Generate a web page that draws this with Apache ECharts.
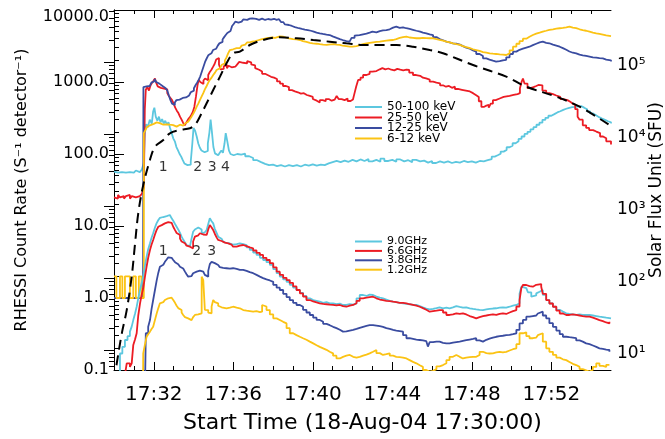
<!DOCTYPE html>
<html><head><meta charset="utf-8">
<script src="https://cdn.jsdelivr.net/npm/echarts@6/dist/echarts.min.js"></script>
<style>html,body{margin:0;padding:0;background:#fff}#c{width:665px;height:439px}</style>
</head><body><div id="c"></div>
<script>
// ---- time in minutes after 17:30:00 ----
const xMajorTicks = [2, 6, 10, 14, 18, 22];
const xMinorTicks = [1, 3, 4, 5, 7, 8, 9, 11, 12, 13, 15, 16, 17, 19, 20, 21, 23, 24];
const leftTickLabels = [0.1, 1, 10, 100, 1000, 10000];
const rightTickLabels = [10, 100, 1000, 10000, 100000];

const hxrNames = ['50-100 keV', '25-50 keV', '12-25 keV', '6-12 keV'];
const radioNames = ['9.0GHz', '6.6GHz', '3.8GHz', '1.2GHz'];

// RHESSI count rates (left axis)
const hxr50_100 = [[0,57],[0.1,55],[0.2,58],[0.3,56],[0.4,59],[0.5,55],[0.6,57],[0.7,56],[0.8,58],[0.9,55],[1.0,57],[1.1,59],[1.2,56],[1.3,58],[1.4,61],[1.5,75],[1.55,190],[1.62,260],[1.7,235],[1.8,300],[1.9,265],[1.97,390],[2.03,440],[2.1,330],[2.18,290],[2.26,330],[2.34,275],[2.42,305],[2.5,265],[2.58,290],[2.66,255],[2.74,275],[2.82,230],[2.9,195],[2.98,165],[3.06,150],[3.14,125],[3.22,112],[3.3,100],[3.38,92],[3.46,82],[3.54,74],[3.62,70],[3.7,68],[3.78,71],[3.86,78],[3.94,140],[4.0,230],[4.08,210],[4.16,175],[4.24,140],[4.32,122],[4.4,112],[4.48,106],[4.56,102],[4.64,110],[4.72,140],[4.8,200],[4.86,300],[4.92,210],[5.0,125],[5.08,102],[5.16,96],[5.24,98],[5.32,104],[5.4,112],[5.48,104],[5.56,140],[5.62,195],[5.7,150],[5.78,112],[5.86,100],[5.94,96],[6.02,100],[6.2,98],[6.4,101],[6.6,93],[6.8,88],[7.0,82],[7.2,77],[7.4,73],[7.6,70],[7.8,71],[8.0,68],[8.2,70],[8.4,67],[8.6,70],[8.8,68],[9.0,70],[9.2,67],[9.4,71],[9.6,69],[9.8,72],[10.0,69],[10.2,71],[10.4,70],[10.6,74],[10.8,77],[11.0,80],[11.2,77],[11.4,81],[11.6,78],[11.8,83],[12.0,79],[12.2,84],[12.4,80],[12.6,85],[12.8,79],[13.0,83],[13.2,78],[13.4,86],[13.6,80],[13.8,83],[14.0,78],[14.2,84],[14.4,79],[14.6,82],[14.8,77],[15.0,83],[15.2,79],[15.4,81],[15.6,76],[15.8,80],[16.0,75],[16.2,79],[16.4,76],[16.6,79],[16.8,75],[17.0,78],[17.2,76],[17.4,80],[17.6,77],[17.8,79],[18.0,76],[18.2,80],[18.4,79],[18.6,82],[18.8,85],[19.0,92],[19.15,96],[19.3,101],[19.45,108],[19.6,114],[19.75,124],[19.9,130],[20.05,141],[20.2,150],[20.35,162],[20.5,175],[20.65,190],[20.8,203],[20.95,220],[21.1,236],[21.25,255],[21.4,272],[21.55,298],[21.7,318],[21.85,340],[22.0,358],[22.15,378],[22.3,392],[22.45,410],[22.6,425],[22.75,438],[22.9,448],[23.05,452],[23.2,458],[23.35,462],[23.5,440],[23.65,418],[23.8,392],[23.95,366],[24.1,345],[24.25,325],[24.4,310],[24.55,298],[24.7,285],[24.85,275],[25.0,265]];
const hxr25_50 = [[0,25],[0.1,24],[0.2,27],[0.3,25],[0.4,26],[0.5,24],[0.6,26],[0.7,27],[0.8,24],[0.9,26],[1.0,25],[1.1,24],[1.2,26],[1.3,25],[1.4,28],[1.5,34],[1.55,420],[1.6,780],[1.68,850],[1.76,760],[1.84,900],[1.92,980],[2.0,1050],[2.06,1120],[2.12,980],[2.2,870],[2.28,830],[2.36,880],[2.44,810],[2.52,830],[2.6,790],[2.68,700],[2.76,640],[2.84,600],[2.92,560],[3.0,500],[3.08,440],[3.16,400],[3.24,370],[3.32,330],[3.4,300],[3.48,270],[3.56,250],[3.64,275],[3.72,300],[3.8,320],[3.88,345],[3.96,380],[4.04,450],[4.12,620],[4.2,900],[4.26,1070],[4.34,1000],[4.42,940],[4.5,1050],[4.58,1120],[4.66,1060],[4.74,1250],[4.82,1380],[4.9,1480],[4.98,1620],[5.06,1780],[5.14,2050],[5.2,2150],[5.28,1750],[5.36,1500],[5.44,1520],[5.52,1650],[5.6,1730],[5.68,1550],[5.76,1680],[5.84,1600],[5.92,1560],[6.0,1630],[6.1,1700],[6.2,1760],[6.3,1900],[6.4,1850],[6.5,1780],[6.6,1820],[6.7,1950],[6.8,1880],[6.9,1760],[7.0,1700],[7.1,1560],[7.2,1480],[7.3,1400],[7.45,1300],[7.6,1240],[7.75,1180],[7.9,1150],[8.05,1100],[8.2,1020],[8.35,950],[8.5,880],[8.65,850],[8.8,770],[8.95,740],[9.1,720],[9.25,690],[9.4,700],[9.55,660],[9.7,640],[9.85,620],[10.0,580],[10.1,550],[10.2,520],[10.35,560],[10.5,540],[10.65,580],[10.8,550],[10.95,570],[11.1,600],[11.2,640],[11.3,580],[11.45,560],[11.6,590],[11.75,545],[11.9,570],[12.02,555],[12.1,700],[12.18,860],[12.28,1070],[12.4,1150],[12.53,1250],[12.7,1300],[12.86,1390],[13.0,1420],[13.2,1500],[13.37,1560],[13.5,1500],[13.65,1540],[13.8,1480],[13.95,1450],[14.1,1520],[14.25,1480],[14.4,1450],[14.55,1490],[14.71,1470],[14.85,1350],[15.04,1250],[15.2,1220],[15.4,1150],[15.54,1120],[15.7,1080],[15.88,1010],[16.05,980],[16.22,960],[16.4,900],[16.55,860],[16.7,880],[16.85,830],[17.0,860],[17.15,800],[17.3,780],[17.5,760],[17.7,740],[17.9,700],[18.06,660],[18.2,620],[18.35,540],[18.48,450],[18.6,470],[18.73,480],[18.85,440],[18.95,500],[19.06,560],[19.2,590],[19.4,620],[19.6,640],[19.9,660],[20.1,680],[20.3,700],[20.42,820],[20.5,1000],[20.57,1120],[20.65,950],[20.8,820],[20.95,850],[21.1,880],[21.24,910],[21.35,960],[21.45,900],[21.55,760],[21.74,700],[21.9,680],[22.08,650],[22.25,620],[22.45,580],[22.6,560],[22.81,530],[22.95,500],[23.08,480],[23.2,420],[23.32,330],[23.42,300],[23.58,250],[23.75,230],[23.9,215],[24.1,205],[24.26,195],[24.45,175],[24.6,165],[24.76,150],[25.0,135]];
const hxr12_25 = [[0,1],[1.46,1],[1.48,850],[1.56,870],[1.64,900],[1.72,880],[1.8,920],[1.88,980],[1.96,1030],[2.04,1100],[2.12,1000],[2.2,950],[2.28,900],[2.36,880],[2.44,830],[2.52,820],[2.6,790],[2.68,760],[2.76,650],[2.84,560],[2.92,500],[2.98,480],[3.06,520],[3.14,560],[3.22,570],[3.3,590],[3.38,600],[3.46,590],[3.54,610],[3.62,620],[3.7,650],[3.78,690],[3.86,720],[3.94,760],[4.02,820],[4.1,900],[4.18,980],[4.26,1070],[4.34,1200],[4.42,1400],[4.5,1630],[4.58,1900],[4.66,2120],[4.74,2350],[4.82,2500],[4.9,2650],[4.98,2780],[5.06,2900],[5.14,3050],[5.22,3200],[5.3,3440],[5.38,3600],[5.46,3900],[5.54,4200],[5.62,4500],[5.7,4800],[5.78,5100],[5.86,5400],[5.94,6000],[6.02,6400],[6.1,6880],[6.18,6700],[6.26,6540],[6.34,6900],[6.42,7100],[6.5,7400],[6.6,7300],[6.7,7600],[6.83,7670],[6.95,7400],[7.05,7550],[7.15,7300],[7.3,7600],[7.45,7270],[7.6,7500],[7.75,7350],[7.9,7550],[8.05,7300],[8.18,7440],[8.3,7000],[8.4,6800],[8.51,6540],[8.6,6300],[8.68,6190],[8.8,6000],[8.95,5800],[9.1,5700],[9.18,5580],[9.3,5450],[9.45,5350],[9.6,5270],[9.75,5150],[9.9,5000],[10.05,4850],[10.19,4740],[10.35,4650],[10.5,4550],[10.69,4490],[10.85,4300],[11.0,4100],[11.2,3950],[11.36,3830],[11.5,3700],[11.69,3630],[11.85,3800],[11.95,4100],[12.1,4400],[12.2,4490],[12.35,4600],[12.53,4700],[12.7,4850],[12.86,5000],[13.0,4900],[13.2,5100],[13.37,5200],[13.53,5270],[13.7,5400],[13.87,5700],[14.04,5870],[14.2,5650],[14.37,5750],[14.54,5580],[14.7,5450],[14.87,5300],[15.04,5150],[15.21,5000],[15.4,4850],[15.54,4750],[15.71,4600],[15.88,4490],[16.05,4200],[16.22,3950],[16.38,3800],[16.55,3630],[16.72,3550],[16.88,3440],[17.05,3400],[17.22,3300],[17.4,3150],[17.55,3000],[17.72,2900],[17.9,2750],[18.06,2640],[18.22,2450],[18.39,2300],[18.56,2130],[18.73,2050],[18.89,1980],[19.06,1920],[19.22,1950],[19.4,2000],[19.56,2030],[19.73,2200],[19.9,2450],[20.07,2640],[20.24,2800],[20.4,2900],[20.57,3000],[20.74,3090],[20.9,3250],[21.07,3400],[21.24,3550],[21.41,3630],[21.57,3500],[21.74,3450],[21.9,3300],[22.08,3200],[22.25,3090],[22.42,2950],[22.58,2800],[22.75,2650],[22.91,2550],[23.08,2500],[23.25,2400],[23.42,2350],[23.58,2300],[23.75,2250],[23.92,2200],[24.09,2180],[24.26,2150],[24.42,2130],[24.59,2050],[24.76,2000],[25.0,1920]];
const hxr6_12 = [[0,2],[0.12,1],[0.3,2],[0.42,1],[0.55,2],[0.8,1],[0.97,2],[1.1,1],[1.25,2],[1.38,1],[1.5,195],[1.58,215],[1.65,235],[1.73,250],[1.81,265],[1.9,262],[2.0,270],[2.08,275],[2.15,280],[2.23,268],[2.3,260],[2.4,255],[2.48,250],[2.56,258],[2.65,262],[2.73,255],[2.81,265],[2.9,252],[2.98,248],[3.07,240],[3.15,248],[3.25,255],[3.32,250],[3.4,248],[3.48,258],[3.57,265],[3.65,280],[3.73,290],[3.82,305],[3.9,330],[3.98,360],[4.07,400],[4.16,454],[4.24,500],[4.32,560],[4.41,630],[4.49,700],[4.57,790],[4.66,880],[4.74,980],[4.82,1070],[4.91,1150],[4.99,1250],[5.08,1350],[5.16,1470],[5.24,1550],[5.33,1650],[5.41,1720],[5.49,1820],[5.58,2000],[5.66,2200],[5.74,2500],[5.83,2780],[5.91,2850],[5.99,2900],[6.08,2950],[6.17,2850],[6.25,2950],[6.33,3090],[6.42,3200],[6.5,3300],[6.6,3450],[6.7,3550],[6.83,3630],[6.95,3700],[7.1,3800],[7.25,3900],[7.4,4000],[7.5,4050],[7.65,4100],[7.8,4150],[7.95,4100],[8.1,4200],[8.2,4300],[8.34,4260],[8.5,4150],[8.65,4050],[8.8,3950],[9.0,3900],[9.18,3830],[9.35,3700],[9.5,3600],[9.68,3500],[9.85,3440],[10.0,3400],[10.2,3350],[10.35,3300],[10.52,3270],[10.7,3320],[10.9,3350],[11.05,3300],[11.19,3270],[11.35,3200],[11.5,3150],[11.69,3100],[11.86,3090],[12.0,3150],[12.2,3250],[12.36,3350],[12.53,3440],[12.7,3500],[12.86,3550],[13.03,3600],[13.2,3630],[13.37,3700],[13.53,3750],[13.7,3800],[13.87,3830],[14.04,3950],[14.2,4100],[14.37,4200],[14.54,4260],[14.71,4150],[14.87,4100],[15.04,4050],[15.21,4050],[15.38,4100],[15.54,4080],[15.71,4050],[15.88,4050],[16.05,3950],[16.22,3850],[16.38,3750],[16.55,3630],[16.72,3550],[16.88,3440],[17.05,3350],[17.22,3270],[17.4,3150],[17.55,3050],[17.72,2950],[17.9,2850],[18.06,2780],[18.22,2700],[18.39,2600],[18.56,2550],[18.73,2500],[18.9,2470],[19.06,2450],[19.22,2420],[19.4,2400],[19.56,2370],[19.73,2500],[19.9,2750],[20.07,3090],[20.24,3400],[20.4,3700],[20.57,4000],[20.74,4260],[20.9,4500],[21.07,4700],[21.24,4850],[21.41,5000],[21.57,5150],[21.74,5300],[21.9,5400],[22.08,5500],[22.25,5580],[22.42,5650],[22.58,5750],[22.75,5870],[22.91,5700],[23.08,5600],[23.25,5400],[23.42,5270],[23.58,5150],[23.75,5000],[23.92,4850],[24.09,4740],[24.26,4650],[24.42,4550],[24.59,4450],[24.76,4350],[25.0,4260]];

// Radio flux in SFU (right axis)
const radio9_0 = [[0,4],[0.3,8.9],[0.42,11],[0.55,13.7],[0.68,15.5],[0.8,17.9],[0.89,21],[0.97,25.9],[1.06,32],[1.14,39.7],[1.22,52],[1.31,67.8],[1.39,85],[1.47,104],[1.56,150],[1.64,197],[1.72,250],[1.81,302],[1.89,360],[1.97,416],[2.06,500],[2.14,570],[2.23,636],[2.31,680],[2.4,700],[2.48,707],[2.56,720],[2.65,735],[2.73,746],[2.81,720],[2.9,671],[2.98,620],[3.07,560],[3.15,513],[3.23,470],[3.32,420],[3.4,373],[3.48,340],[3.57,310],[3.65,286],[3.73,275],[3.82,271],[3.9,350],[3.98,437],[4.07,470],[4.16,500],[4.24,513],[4.32,470],[4.41,416],[4.49,430],[4.57,445],[4.66,461],[4.74,560],[4.82,671],[4.91,610],[4.99,571],[5.07,480],[5.16,420],[5.24,373],[5.32,350],[5.41,330],[5.49,318],[5.58,305],[5.66,300],[5.83,290],[5.99,286],[6.08,295],[6.17,302],[6.33,295],[6.5,286],[6.67,265],[6.83,244],[7.0,225],[7.17,208],[7.34,190],[7.5,177],[7.67,165],[7.84,151],[8.01,132],[8.18,116],[8.34,104],[8.51,95],[8.68,88],[8.84,80],[9.01,73],[9.18,67.8],[9.35,62],[9.51,56],[9.68,52],[9.85,49],[10.02,48],[10.19,46.7],[10.35,45],[10.52,46],[10.69,44.3],[10.85,44.3],[11.02,43],[11.19,44],[11.36,42],[11.52,42],[11.69,43],[11.86,42.5],[12.03,44.3],[12.2,52],[12.36,57.8],[12.53,56],[12.7,58.5],[12.86,57.8],[13.03,55],[13.2,53],[13.37,52],[13.53,50],[13.7,48],[13.87,46.7],[14.04,46],[14.2,45],[14.37,44.3],[14.54,43.5],[14.71,43],[14.87,42],[15.04,42],[15.21,40.5],[15.38,39],[15.54,37.5],[15.71,36.6],[15.88,37],[16.05,38],[16.22,39],[16.38,37.8],[16.55,38.5],[16.72,37.8],[16.88,39],[17.05,40.6],[17.22,39.5],[17.39,38.5],[17.55,39],[17.72,37.8],[17.89,37],[18.06,36.5],[18.22,36],[18.39,35.7],[18.56,36.5],[18.73,37],[18.89,37.5],[19.06,37.8],[19.23,38.5],[19.4,39],[19.56,38.5],[19.73,39.7],[19.9,41],[20.07,42],[20.24,44.3],[20.4,60],[20.49,75.3],[20.57,72],[20.74,71.6],[20.82,63],[20.99,54.7],[21.07,57],[21.24,60.9],[21.32,64],[21.41,67.8],[21.57,58],[21.74,49.2],[21.9,44],[22.08,39.7],[22.25,36],[22.42,34],[22.58,32.2],[22.75,31.5],[22.91,31],[23.08,30.5],[23.25,31],[23.42,30.5],[23.58,30.5],[23.75,30.5],[23.92,30],[24.09,29.5],[24.26,28.9],[24.42,28.5],[24.59,28],[24.76,27.4],[25,27.4]];
const radio6_6 = [[0,4],[0.55,4.5],[0.64,6.5],[0.72,6.5],[0.8,5.8],[0.89,6.5],[0.97,11.7],[1.06,14],[1.14,17],[1.22,30],[1.31,44.3],[1.39,58],[1.47,71.6],[1.56,105],[1.64,143],[1.72,190],[1.81,244],[1.89,290],[1.97,336],[2.06,400],[2.14,460],[2.23,513],[2.31,540],[2.4,560],[2.48,571],[2.56,585],[2.65,595],[2.73,602],[2.81,580],[2.9,550],[2.98,513],[3.07,460],[3.15,420],[3.23,394],[3.32,350],[3.4,320],[3.48,302],[3.57,290],[3.65,280],[3.73,271],[3.82,262],[3.9,257],[3.98,320],[4.07,373],[4.16,390],[4.24,405],[4.32,416],[4.41,400],[4.49,390],[4.57,394],[4.66,410],[4.74,470],[4.82,542],[4.91,500],[4.99,461],[5.07,410],[5.16,365],[5.24,336],[5.32,325],[5.41,315],[5.49,308],[5.58,302],[5.75,290],[5.91,280],[5.99,271],[6.17,280],[6.33,286],[6.5,275],[6.67,265],[6.83,257],[7.0,240],[7.17,222],[7.34,208],[7.5,190],[7.67,177],[7.84,160],[8.01,140],[8.18,122],[8.34,110],[8.51,100],[8.68,93],[8.84,85],[9.01,76],[9.18,67.8],[9.35,61],[9.51,55],[9.68,49.2],[9.85,47],[10.02,45.5],[10.19,44.3],[10.35,43.5],[10.52,43],[10.69,42.5],[10.85,42],[11.02,41.5],[11.19,42],[11.36,40.5],[11.52,39.7],[11.69,41],[11.86,42],[12.03,44.3],[12.2,48],[12.36,52],[12.53,53],[12.7,54],[12.86,54.7],[13.03,52],[13.2,50],[13.37,49.2],[13.53,48],[13.7,47.5],[13.87,46.7],[14.04,46],[14.2,45],[14.37,44.8],[14.54,44.3],[14.71,43],[14.87,42],[15.04,41],[15.21,39.7],[15.38,38],[15.54,36],[15.71,33.9],[15.88,34.5],[16.05,35],[16.22,35.7],[16.38,35.7],[16.55,33],[16.72,30.5],[16.88,31],[17.05,32],[17.22,31.5],[17.39,32.2],[17.55,31],[17.72,29.5],[17.89,28.5],[18.06,27.4],[18.22,28.5],[18.39,29.5],[18.56,30],[18.73,30.5],[18.89,31],[19.06,30.5],[19.23,31.5],[19.4,32.2],[19.56,31.5],[19.73,33],[19.9,34.5],[20.07,35.7],[20.24,40],[20.4,49.2],[20.49,72],[20.57,79.6],[20.74,77],[20.9,75.3],[21.07,80],[21.24,84],[21.32,82],[21.49,75.3],[21.57,60],[21.74,49.2],[21.9,44],[22.08,39.7],[22.25,35],[22.42,32],[22.58,30.5],[22.75,30.5],[22.91,31],[23.08,30.5],[23.25,30],[23.42,29.5],[23.58,29],[23.75,28.9],[23.92,28],[24.09,27],[24.26,25.9],[24.42,25],[24.59,24],[24.76,23.3],[24.92,24.6]];
const radio3_8 = [[0,3],[1.56,3],[1.6,17],[1.72,21],[1.81,25.9],[1.89,37],[1.97,49.2],[2.06,67.8],[2.15,93],[2.23,118],[2.31,143],[2.4,152],[2.48,160],[2.56,167],[2.65,180],[2.73,193],[2.81,190],[2.9,185],[2.98,177],[3.07,165],[3.15,155],[3.23,148],[3.32,143],[3.4,135],[3.48,128],[3.57,122],[3.65,112],[3.73,104],[3.82,106],[3.9,110],[3.98,116],[4.07,122],[4.16,129],[4.24,126],[4.32,124],[4.41,122],[4.49,118],[4.57,110],[4.66,104],[4.74,125],[4.82,155],[4.91,167],[4.99,160],[5.07,155],[5.16,151],[5.24,146],[5.32,141],[5.41,138],[5.49,136],[5.66,134],[5.83,136],[5.99,133],[6.17,129],[6.33,129],[6.5,125],[6.67,120],[6.83,116],[7.0,110],[7.17,104],[7.34,99],[7.5,95],[7.67,92],[7.84,88],[8.01,80],[8.18,73],[8.34,67.8],[8.51,60],[8.68,54],[8.84,49.2],[9.01,45],[9.18,42],[9.35,39.7],[9.51,36],[9.68,33],[9.85,30.5],[10.02,28],[10.19,26],[10.35,24.6],[10.52,23],[10.69,22],[10.85,20.9],[11.02,20],[11.19,19],[11.36,17.9],[11.52,18],[11.69,18.5],[11.86,18.9],[12.03,19.5],[12.2,20.2],[12.36,20.9],[12.53,21.5],[12.7,22],[12.86,22.1],[13.03,21.7],[13.2,21.3],[13.37,20.9],[13.53,20],[13.7,19.5],[13.87,18.9],[14.04,18.5],[14.2,18.2],[14.37,17.9],[14.54,16],[14.71,14.5],[14.87,14.2],[15.04,13.9],[15.21,13.7],[15.38,13.5],[15.54,13.2],[15.71,13],[15.79,11.1],[15.88,12.8],[16.05,13],[16.22,13],[16.38,12.5],[16.55,12.3],[16.72,12.3],[16.88,12.6],[17.05,12.8],[17.22,13],[17.39,13.3],[17.55,13.6],[17.72,13.9],[17.89,14.2],[18.06,14.5],[18.22,13.5],[18.39,13],[18.56,13.8],[18.73,14.3],[18.89,14.8],[19.06,15.2],[19.23,15.5],[19.4,15.7],[19.56,16],[19.73,16.1],[19.9,16.5],[20.07,17],[20.24,19],[20.4,23.3],[20.57,26],[20.74,28.9],[20.9,29.5],[21.07,30],[21.24,30.5],[21.32,32],[21.41,33.9],[21.57,30],[21.74,27.4],[21.9,23.5],[22.08,20.9],[22.25,18.5],[22.42,16.5],[22.58,15.2],[22.75,15],[22.91,14.8],[23.08,14.5],[23.25,13.5],[23.42,13],[23.58,12.3],[23.75,12],[23.92,11.5],[24.09,11],[24.26,10.5],[24.42,10.3],[24.59,10.1],[24.76,9.95],[24.92,9.4]];
const radio1_2 = [[0,3],[1.46,3],[1.47,8.95],[1.56,12],[1.64,15.2],[1.72,16.5],[1.81,17.9],[1.89,19.5],[1.97,20.9],[2.06,26],[2.15,32.2],[2.23,38],[2.31,44.3],[2.4,46],[2.48,48],[2.56,49.2],[2.65,52],[2.73,54.7],[2.81,53],[2.9,51],[2.98,49.2],[3.07,45],[3.15,41],[3.23,38],[3.32,35.7],[3.4,33],[3.48,30.5],[3.57,28.5],[3.65,27.4],[3.73,26.5],[3.82,25.9],[3.9,27],[3.98,28.5],[4.07,30.5],[4.16,31],[4.24,31.5],[4.32,32.2],[4.41,104],[4.49,93],[4.57,36],[4.62,35.7],[4.74,33],[4.82,32.2],[4.91,40],[4.99,49.2],[5.07,46],[5.16,44.3],[5.24,41],[5.32,39],[5.41,38.5],[5.49,37.8],[5.66,38.5],[5.83,39.7],[5.99,38.5],[6.17,37.8],[6.33,35.7],[6.5,35],[6.67,34.5],[6.83,33.9],[7.0,34.5],[7.17,33.5],[7.34,33.9],[7.45,42],[7.55,40],[7.67,35.7],[7.84,31],[8.01,27.4],[8.18,26],[8.34,24.5],[8.51,23.3],[8.68,20],[8.84,17],[9.01,16],[9.18,15.2],[9.35,14.5],[9.51,13.8],[9.68,13],[9.85,12.3],[10.02,11.6],[10.19,11],[10.35,10.5],[10.52,10],[10.69,9.4],[10.85,8.95],[11.02,8.3],[11.19,7.6],[11.36,8.0],[11.52,8.3],[11.69,8.5],[11.86,8.0],[12.03,7.8],[12.2,8.0],[12.36,8.3],[12.53,8.6],[12.7,8.95],[12.86,9.4],[13.03,9.95],[13.2,9.0],[13.37,8.5],[13.53,8.7],[13.7,8.95],[13.87,8.3],[14.04,8.0],[14.2,7.9],[14.37,7.8],[14.54,7.6],[14.71,7.2],[14.87,6.8],[15.04,6.5],[15.21,6.1],[15.38,5.8],[15.54,5.25],[15.71,5.0],[15.88,5.1],[16.05,5.4],[16.22,5.9],[16.38,6.15],[16.55,6.5],[16.72,7.2],[16.88,8.0],[17.05,8.5],[17.22,8.0],[17.39,7.6],[17.55,7.8],[17.72,7.9],[17.89,8.0],[18.06,8.0],[18.22,8.5],[18.39,9.4],[18.56,9.0],[18.73,8.9],[18.89,8.95],[19.06,9.2],[19.23,9.4],[19.4,9.2],[19.56,9.4],[19.73,9.8],[19.9,10.2],[20.07,10.5],[20.24,12],[20.4,17],[20.57,17.9],[20.65,17.5],[20.74,15.5],[20.9,14.5],[21.07,14.8],[21.24,15.2],[21.32,16],[21.41,17],[21.57,13],[21.74,10.5],[21.9,9.4],[22.08,8.5],[22.25,7.8],[22.42,7.4],[22.58,7.2],[22.75,6.8],[22.91,6.4],[23.08,6.15],[23.25,5.8],[23.42,5.4],[23.58,5.2],[23.75,5.0],[23.92,5.3],[24.09,5.8],[24.26,6.5],[24.42,6.0],[24.59,5.8],[24.76,6.2],[24.92,6.15]];

// dashed black curve (left axis scale)
const dashedCurve = [[0,0.07],[0.1,0.106],[0.39,0.32],[0.64,0.68],[0.89,1.98],[1.06,5.75],[1.22,15],[1.47,37],[1.81,83],[2.06,126],[2.48,156],[2.81,194],[3.32,215],[3.82,228],[4.07,253],[4.32,330],[4.66,506],[4.99,774],[5.33,1186],[5.66,1820],[5.99,2505],[6.33,2640],[6.83,3266],[7.5,3830],[8.34,4180],[9.18,4045],[10.02,3830],[10.85,3630],[11.69,3440],[12.53,3266],[13.37,3266],[14.21,3266],[15.04,3090],[15.88,2780],[16.55,2505],[18.06,1720],[19.73,1186],[20.74,860],[22.25,625],[23.42,454],[24.92,253]];

// peak labels: [time, left-axis value, text]
const hxrPeakLabels = [[2.48,66,'1'],[4.21,66,'2'],[4.94,66,'3'],[5.61,66,'4']];
const radioPeakLabels = [[2.48,4.4,'1'],[4.16,4.4,'2'],[4.91,4.4,'3']];

const colCyan = '#5CC7DF', colRed = '#EC1C24', colBlue = '#3A4CA0', colYellow = '#FBC314';
const FONT = 'DejaVu Sans';
const SUP = { 1: '\u00B9', 2: '\u00B2', 3: '\u00B3', 4: '\u2074', 5: '\u2075' };

function decadeMinors(lo, hi) {
  const out = [];
  for (let e = -2; e <= 6; e++) {
    for (let m = 2; m <= 9; m++) {
      const v = m * Math.pow(10, e);
      if (v > lo && v < hi) out.push(+v.toPrecision(6));
    }
  }
  return out;
}
const RMIN = 5.25, RMAX = 525000;
const leftMinor = decadeMinors(0.1, 10000);
const rightMinor = decadeMinors(RMIN, RMAX);

function lineSeries(name, data, color, yIdx) {
  return { name, type: 'line', data, xAxisIndex: 0, yAxisIndex: yIdx, step: 'end',
    symbol: 'none', showSymbol: false, color, itemStyle: { color },
    lineStyle: { color, width: 1.8 }, silent: true, animation: false, clip: true };
}

const baseX = { type: 'value', min: 0, max: 25, splitLine: { show: false }, gridIndex: 0 };
const baseTick = { lineStyle: { color: '#000', width: 1 } };

const chart = echarts.init(document.getElementById('c'), null, { renderer: 'canvas' });
chart.setOption({
  animation: false,
  backgroundColor: '#fff',
  textStyle: { fontFamily: FONT },
  grid: { left: 114, right: 54, top: 10, bottom: 69, containLabel: false, outerBoundsMode: 'none' },
  legend: [
    { data: hxrNames, orient: 'vertical', left: 355, top: 101, itemWidth: 27, itemHeight: 2, itemGap: -1.5,
      icon: 'rect', padding: 0, selectedMode: false,
      textStyle: { fontSize: 12, color: '#000', fontFamily: FONT } },
    { data: radioNames, orient: 'vertical', left: 355, top: 236, itemWidth: 27, itemHeight: 2, itemGap: -1.6,
      icon: 'rect', padding: 0, selectedMode: false,
      textStyle: { fontSize: 11, color: '#000', fontFamily: FONT } }
  ],
  xAxis: [
    Object.assign({}, baseX, { position: 'bottom',
      axisLine: { show: true, lineStyle: { color: '#000', width: 1 } },
      axisTick: Object.assign({ show: true, inside: true, length: 8, customValues: xMajorTicks }, baseTick),
      axisLabel: { show: true, customValues: xMajorTicks, formatter: v => '17:' + (30 + v),
        fontSize: 20, color: '#000', margin: 15, fontFamily: FONT },
      name: 'Start Time (18-Aug-04 17:30:00)', nameLocation: 'middle', nameGap: 42, nameMoveOverlap: false,
      nameTextStyle: { fontSize: 22, color: '#000', fontFamily: FONT } }),
    Object.assign({}, baseX, { position: 'bottom', axisLine: { show: false },
      axisTick: Object.assign({ show: true, inside: true, length: 4, customValues: xMinorTicks }, baseTick),
      axisLabel: { show: false } }),
    Object.assign({}, baseX, { position: 'top',
      axisLine: { show: true, lineStyle: { color: '#000', width: 1 } },
      axisTick: Object.assign({ show: true, inside: true, length: 8, customValues: xMajorTicks }, baseTick),
      axisLabel: { show: false } }),
    Object.assign({}, baseX, { position: 'top', axisLine: { show: false },
      axisTick: Object.assign({ show: true, inside: true, length: 4, customValues: xMinorTicks }, baseTick),
      axisLabel: { show: false } })
  ],
  yAxis: [
    { type: 'log', logBase: 10, min: 0.1, max: 10000, position: 'left', splitLine: { show: false },
      axisLine: { show: true, lineStyle: { color: '#000', width: 1 } },
      axisTick: Object.assign({ show: true, inside: true, length: 10, customValues: leftTickLabels }, baseTick),
      axisLabel: { show: true, customValues: leftTickLabels, fontSize: 16, color: '#000', margin: 5, fontFamily: FONT,
        formatter: v => v >= 9999 ? '{t|10000.0}' : v.toFixed(1),
        rich: { t: { fontSize: 16, color: '#000', fontFamily: FONT, padding: [14, 0, 0, 0] } } },
      name: 'RHESSI Count Rate (S\u207B\u00B9 detector\u207B\u00B9)', nameLocation: 'middle', nameRotate: 90, nameGap: 84,
      nameMoveOverlap: false,
      nameTextStyle: { fontSize: 16, color: '#000', fontFamily: FONT } },
    { type: 'log', logBase: 10, min: RMIN, max: RMAX, position: 'right', splitLine: { show: false },
      axisLine: { show: true, lineStyle: { color: '#000', width: 1 } },
      axisTick: Object.assign({ show: true, inside: true, length: 10, customValues: rightTickLabels }, baseTick),
      axisLabel: { show: true, customValues: rightTickLabels, fontSize: 17, color: '#000', margin: 6, fontFamily: FONT,
        formatter: v => '{b|10' + SUP[Math.round(Math.log10(v))] + '}',
        rich: { b: { fontSize: 17, color: '#000', fontFamily: FONT, padding: [7, 0, 0, 0] } } },
      name: 'Solar Flux Unit (SFU)', nameLocation: 'middle', nameRotate: 90, nameGap: 37, nameMoveOverlap: false,
      nameTextStyle: { fontSize: 17, color: '#000', fontFamily: FONT } },
    { type: 'log', logBase: 10, min: 0.1, max: 10000, position: 'left', splitLine: { show: false },
      axisLine: { show: false }, axisLabel: { show: false },
      axisTick: Object.assign({ show: true, inside: true, length: 5, customValues: leftMinor }, baseTick) },
    { type: 'log', logBase: 10, min: RMIN, max: RMAX, position: 'right', splitLine: { show: false },
      axisLine: { show: false }, axisLabel: { show: false },
      axisTick: Object.assign({ show: true, inside: true, length: 5, customValues: rightMinor }, baseTick) }
  ],
  series: [
    lineSeries(hxrNames[0], hxr50_100, colCyan, 0),
    lineSeries(hxrNames[1], hxr25_50, colRed, 0),
    lineSeries(hxrNames[2], hxr12_25, colBlue, 0),
    lineSeries(hxrNames[3], hxr6_12, colYellow, 0),
    lineSeries(radioNames[0], radio9_0, colCyan, 1),
    lineSeries(radioNames[1], radio6_6, colRed, 1),
    lineSeries(radioNames[2], radio3_8, colBlue, 1),
    lineSeries(radioNames[3], radio1_2, colYellow, 1),
    { name: 'dashed', type: 'line', data: dashedCurve, yAxisIndex: 0, smooth: 0.35, symbol: 'none',
      lineStyle: { color: '#000', width: 2, type: [10, 6] }, silent: true, clip: true },
    { name: 'peaks', type: 'scatter', yAxisIndex: 0, symbolSize: 1, itemStyle: { color: 'rgba(0,0,0,0)' }, silent: true, z: 5,
      data: hxrPeakLabels.concat(radioPeakLabels).map(p => ({ value: [p[0], p[1]], name: p[2] })),
      label: { show: true, position: 'inside', formatter: '{b}', fontSize: 14, color: '#000', fontFamily: FONT } }
  ]
});
</script></body></html>
